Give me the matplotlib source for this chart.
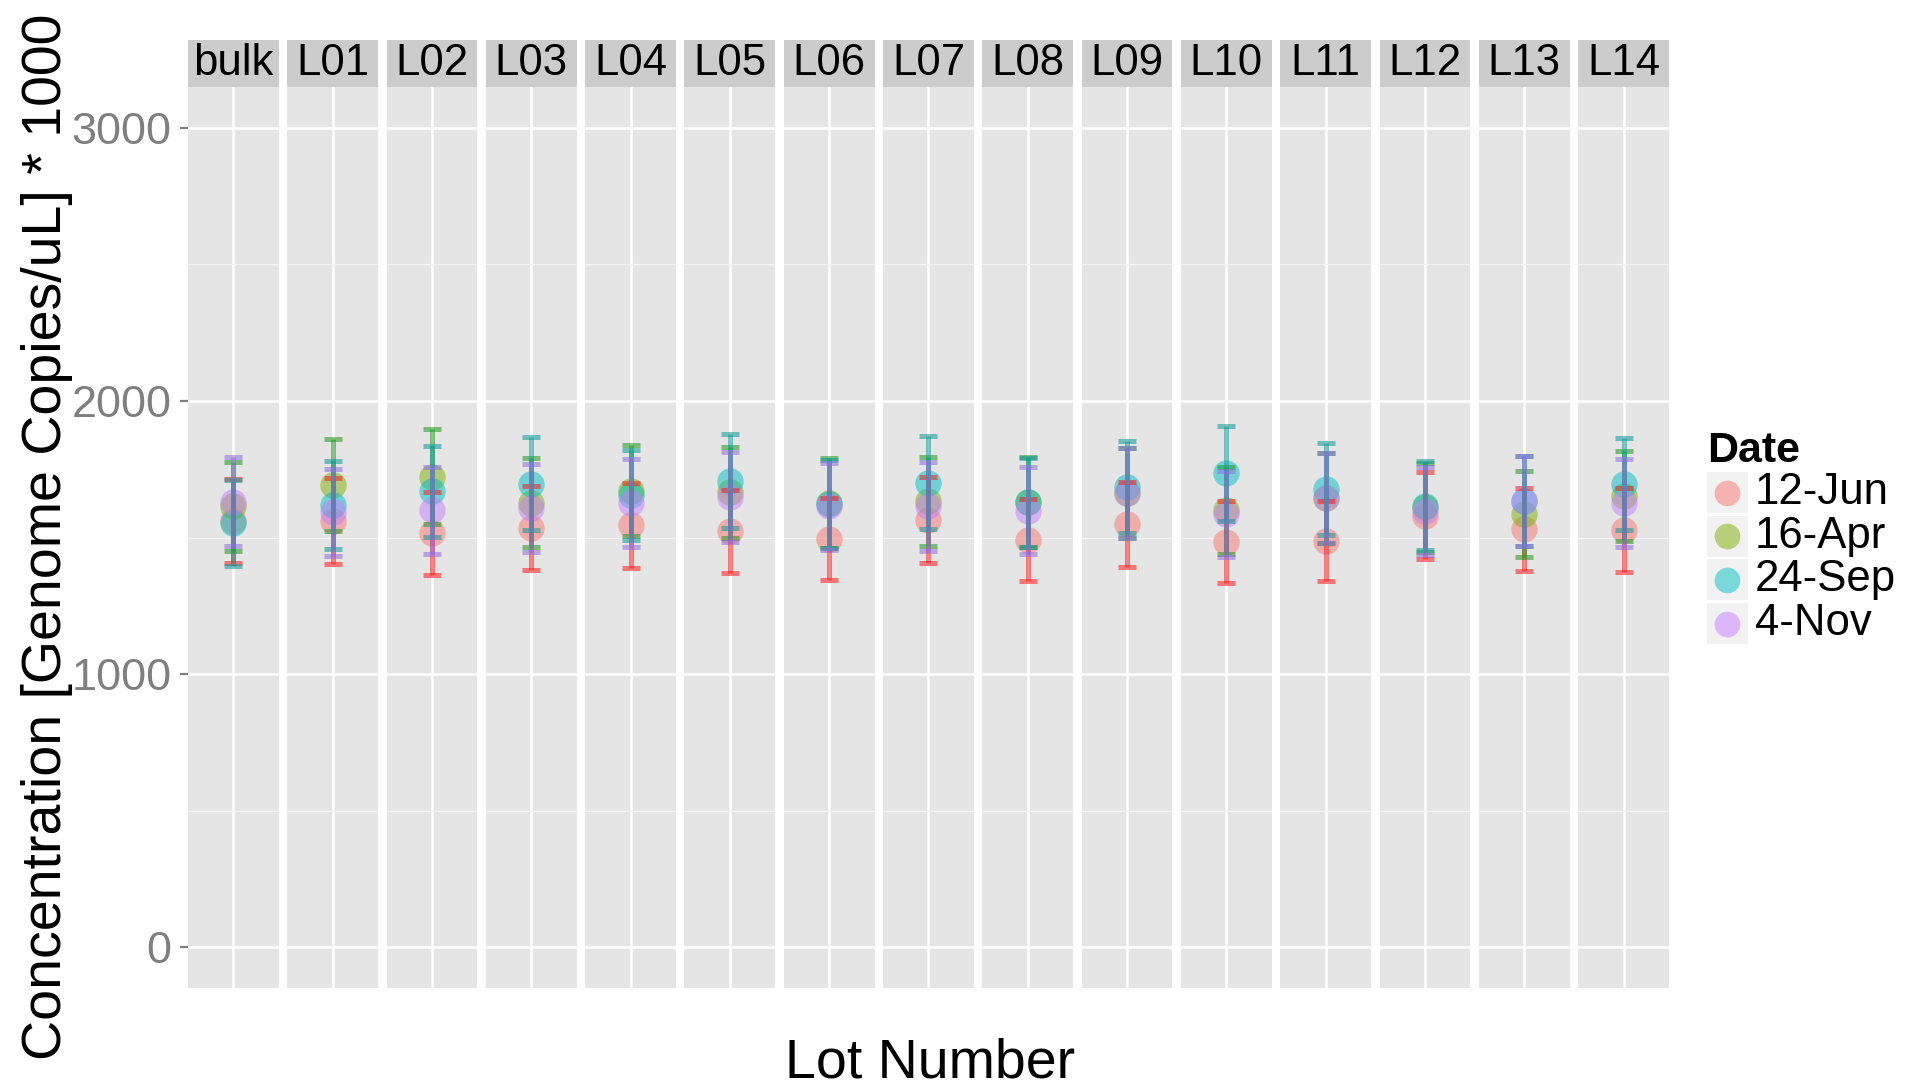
import matplotlib
matplotlib.use('Agg')
import matplotlib.pyplot as plt
from matplotlib.patches import Rectangle

plt.rcParams['font.family'] = ['Liberation Sans', 'DejaVu Sans']

# Lots (facets) and sampling dates
lots = ['bulk', 'L01', 'L02', 'L03', 'L04', 'L05', 'L06', 'L07',
        'L08', 'L09', 'L10', 'L11', 'L12', 'L13', 'L14']
dates = ['12-Jun', '16-Apr', '24-Sep', '4-Nov']

# Mean concentration per lot, one list per date
mean_jun12 = [1560, 1560, 1515, 1534, 1545, 1523, 1495, 1565, 1490, 1548, 1482, 1487, 1580, 1530, 1528]
mean_apr16 = [1615, 1692, 1723, 1627, 1672, 1666, 1627, 1633, 1631, 1663, 1600, 1645, 1610, 1586, 1653]
mean_sep24 = [1554, 1619, 1669, 1697, 1656, 1707, 1624, 1701, 1629, 1686, 1735, 1677, 1617, 1635, 1697]
mean_nov4 = [1631, 1592, 1600, 1607, 1626, 1649, 1614, 1614, 1598, 1662, 1586, 1645, 1598, 1635, 1626]

# Error bar half-widths
err_jun12 = [155, 157, 152, 154, 155, 152, 150, 157, 150, 155, 150, 148, 160, 153, 153]
err_apr16 = [163, 169, 174, 163, 167, 166, 164, 163, 165, 164, 160, 166, 162, 158, 165]
err_sep24 = [157, 162, 167, 170, 165, 171, 161, 171, 162, 169, 174, 168, 162, 165, 169]
err_nov4 = [163, 159, 160, 161, 162, 164, 159, 163, 159, 165, 158, 166, 162, 165, 162]

means = [mean_jun12, mean_apr16, mean_sep24, mean_nov4]
errs = [err_jun12, err_apr16, err_sep24, err_nov4]

point_colors = ['#F8766D', '#7CAE00', '#00BFC4', '#C77CFF']
bar_colors = ['#FF1A1A', '#1E9A1E', '#0E9A9A', '#9070E0']

W, H = 1906, 1090
fig = plt.figure(figsize=(W / 100, H / 100), dpi=100)

# panel geometry in pixels
left0, top, bottom = 188, 87, 988
pw, gap = 90.8, 8.5
strip_h = 47

for i, lot in enumerate(lots):
    x0 = left0 + i * (pw + gap)
    ax = fig.add_axes([x0 / W, 1 - bottom / H, pw / W, (bottom - top) / H])
    ax.set_facecolor('#E5E5E5')
    for s in ax.spines.values():
        s.set_visible(False)
    ax.set_xlim(0.4, 1.6)
    ax.set_ylim(-150, 3150)
    ax.set_xticks([1])
    ax.set_xticklabels([''])
    ax.set_yticks([0, 1000, 2000, 3000])
    ax.set_yticks([500, 1500, 2500], minor=True)
    ax.grid(True, which='major', color='white', lw=1.8)
    ax.grid(True, which='minor', axis='y', color='#F2F2F2', lw=0.9)
    ax.set_axisbelow(True)
    ax.tick_params(axis='x', length=0)
    ax.tick_params(axis='y', which='minor', length=0)
    if i == 0:
        ax.tick_params(axis='y', which='major', length=5.8, width=1.6, color='#7F7F7F',
                       labelcolor='#7F7F7F', labelsize=32.5, pad=6)
    else:
        ax.tick_params(axis='y', which='major', length=0, labelleft=False)

    # points, then error bars on top
    for k in range(len(dates)):
        ax.plot(1, means[k][i], 'o', ms=19, color=point_colors[k], alpha=0.5, mec='none')
    for k in range(len(dates)):
        ax.errorbar(1, means[k][i], yerr=errs[k][i], fmt='none', ecolor=bar_colors[k],
                    elinewidth=3.6, capsize=6.5, capthick=3.6, alpha=0.55)

    # facet strip
    sh = strip_h / (bottom - top)
    ax.add_patch(Rectangle((0, 1), 1, sh, transform=ax.transAxes, clip_on=False,
                           facecolor='#CCCCCC', edgecolor='none'))
    ax.text(0.5, 1 + sh / 2, lot, transform=ax.transAxes, ha='center', va='center',
            fontsize=31.5, color='black')

fig.text(47 / W, 1 - 537 / H, 'Concentration [Genome Copies/uL] * 1000', rotation=90,
         ha='center', va='center', fontsize=40)
fig.text(930 / W, 1 - 1077 / H, 'Lot Number', ha='center', va='baseline', fontsize=40)

# legend drawn in pixel units
lg = fig.add_axes([0, 0, 1, 1], facecolor='none')
lg.set_xlim(0, W)
lg.set_ylim(H, 0)
lg.axis('off')
lg.text(1707, 462, 'Date', fontsize=31, fontweight='bold', va='baseline', ha='left')
for k, d in enumerate(dates):
    ytop = 472 + k * 43.7
    lg.add_patch(Rectangle((1707, ytop), 41, 41, facecolor='#F2F2F2', edgecolor='none'))
    lg.plot(1727.5, ytop + 20.5, 'o', ms=18.5, color=point_colors[k], alpha=0.5, mec='none')
    lg.text(1755, ytop + 20.5, d, fontsize=31.5, va='center', ha='left')

fig.savefig('out.png', dpi=100)
